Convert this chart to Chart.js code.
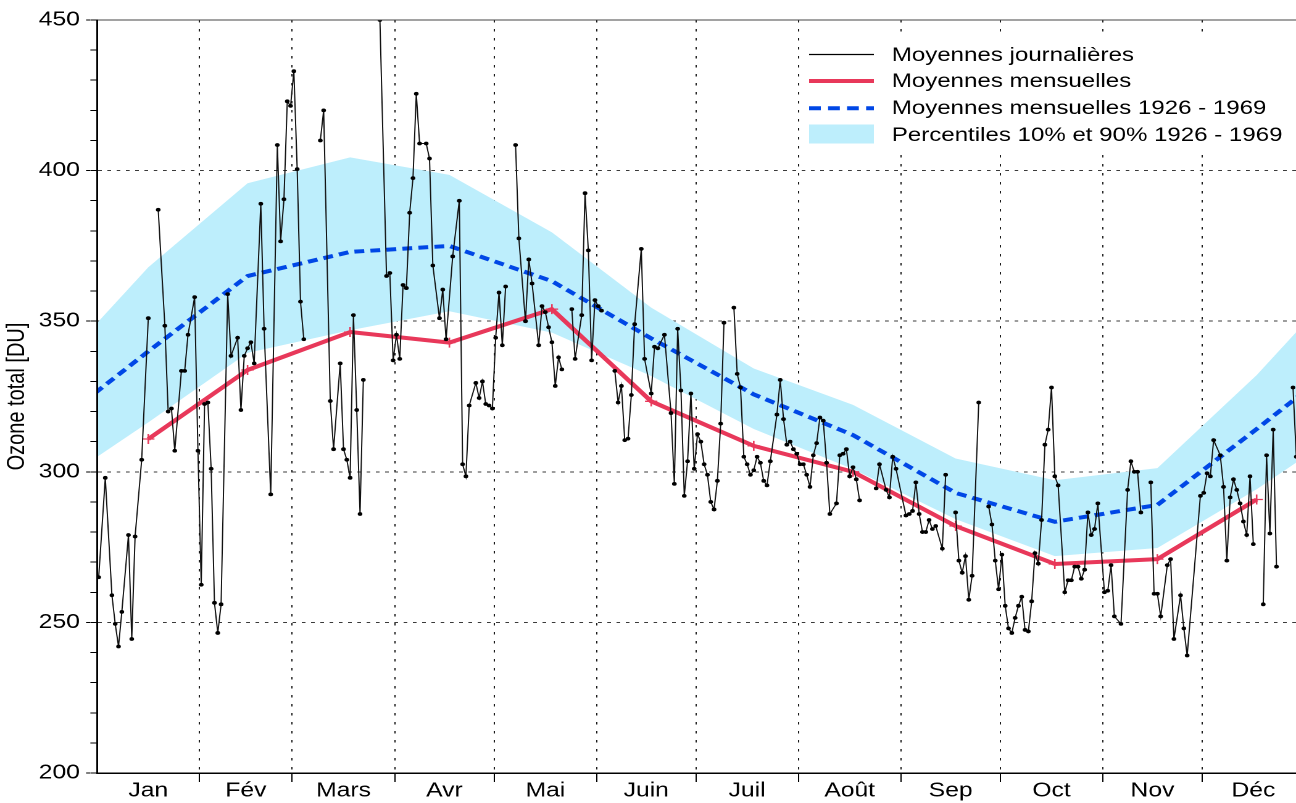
<!DOCTYPE html>
<html>
<head>
<meta charset="utf-8">
<script src="https://cdn.jsdelivr.net/npm/chart.js@4.4.1/dist/chart.umd.js"></script>
<style>
html, body { margin: 0; padding: 0; background: #fff; overflow: hidden; }
#wrap { position: absolute; left: 0; top: 0; width: 1050px; height: 803px; transform: scaleX(1.2342857); transform-origin: 0 0; }
canvas { display: block; }
</style>
</head>
<body>
<div id="wrap"><canvas id="c" width="1050" height="803"></canvas></div>
<script>
// ---------- data ----------
const monthNames = ['Jan', 'Fév', 'Mars', 'Avr', 'Mai', 'Juin', 'Juil', 'Août', 'Sep', 'Oct', 'Nov', 'Déc'];
const monthCenters = [16, 45.5, 75, 105.5, 136, 166.5, 197, 228, 258.5, 289, 319.5, 350];
const monthBounds = [31.5, 59.5, 90.5, 120.5, 151.5, 181.5, 212.5, 243.5, 273.5, 304.5, 334.5];
const yMinorTicks = [200, 210, 220, 230, 240, 250, 260, 270, 280, 290, 300, 310, 320, 330, 340, 350, 360, 370, 380, 390, 400, 410, 420, 430, 440, 450];
const yMajorTicks = [200, 250, 300, 350, 400, 450];
const yGridValues = [250, 300, 350, 400];

// day of year of the monthly points
const monthDay = [16, 46, 77, 107, 138, 168, 199, 229, 260, 290, 321, 351];
const monthlyMean = [310.9, 333.8, 346.4, 342.9, 354.0, 323.4, 308.6, 300.0, 282.0, 269.4, 271.0, 290.8];
const climMean = [340.0, 365.0, 373.0, 375.0, 363.3, 344.3, 325.7, 312.2, 293.0, 283.4, 289.0, 314.2];
const climP90 = [367.9, 395.8, 404.4, 398.6, 379.5, 354.5, 334.3, 322.2, 304.4, 297.2, 301.2, 332.1];
const climP10 = [316.4, 339.5, 347.0, 353.3, 346.2, 331.8, 314.2, 300.9, 284.3, 272.0, 274.7, 294.2];

const dailyDay = [1,3,5,6,7,8,10,11,12,14,16,17,19,21,22,23,24,26,27,28,30,31,32,33,34,35,36,37,38,40,41,43,44,45,46,47,48,50,51,53,55,56,57,58,59,60,61,62,63,65,68,69,71,72,74,75,76,77,78,79,80,81,83,86,88,89,90,91,92,93,94,95,96,97,98,100,101,102,104,105,106,108,110,111,112,113,115,116,117,118,119,120,121,122,123,124,125,127,128,130,131,132,134,135,136,137,138,139,140,141,142,144,145,147,148,149,150,151,152,153,155,157,158,159,160,161,162,163,165,166,168,169,170,172,174,175,176,177,178,179,180,181,182,183,184,185,186,187,188,189,190,191,193,194,195,196,197,198,199,200,201,202,203,204,206,207,208,209,210,211,212,213,214,215,216,217,218,219,220,221,222,224,225,226,227,228,229,230,231,233,236,237,239,240,241,242,245,246,247,248,249,250,251,252,253,254,256,257,258,260,261,262,263,264,265,267,268,270,271,272,273,274,275,276,277,278,279,280,281,282,283,284,285,286,287,288,289,290,291,293,294,295,296,297,298,299,300,301,302,303,305,306,307,308,310,312,313,314,315,316,317,319,320,321,322,324,325,326,328,329,330,334,335,336,337,338,340,341,342,343,344,345,346,347,348,349,350,351,353,354,355,356,357,359,362,363];
const dailyOzone = [265,298,259,249.5,242,253.5,279,244.5,278.5,304,351,null,387,348.5,320,321,307,333.5,333.5,345.5,358,307,262.5,322.5,323,301,256.5,246.5,256,359,338.5,344.5,320.5,338.5,341,343,336,389,347.5,292.5,408.5,376.5,390.5,423,421.5,433,400.5,356.5,344,null,410,420,323.5,307.5,336,307.5,304,298,352,320.5,286,330.5,null,450,365,366,337,345.5,337.5,362,361,386,397.5,425.5,409,409,404,368.5,351,360.5,344,371.5,390,302.5,298.5,322,329.5,324.5,330,322.5,322,321,344.5,359.5,342,361.5,null,408.5,377.5,350,370.5,362.5,342,355,353,348,343,328.5,338,334,null,354,337.5,352,392.5,373.5,337,357,355,353.5,null,333.5,323,328.5,310.5,311,325.5,349,374,337.5,326,341.5,341,345.5,319.5,296,347.5,327,292,303.5,326,301,312.5,310,302.5,299,290,287.5,297,316,349.5,null,354.5,332.5,328,305,302.5,299,300.5,305,303,297,295.5,303.5,319,330.5,317.5,309,310,307.5,306,302.5,302.5,299,295,305.5,309.5,318,317,303,286,289.5,305.5,306,307.5,298.5,301.5,297.5,290.5,null,294.5,302.5,294,291.5,305,301,285.5,286,287,296.5,286,280,280,284,281,282,274.5,299,null,286.5,270.5,266.5,272,257.5,265.5,323,null,288.5,282.5,270.5,261,272.5,255.5,248,246.5,251.5,255.5,258.5,247.5,247,257,273,269.5,284,309,314,328,298.5,295.5,260,264,264,268.5,268.5,264.5,267.5,286.5,279,281,289.5,260,260.5,269,252,249.5,294,303.5,300,300,286.5,null,296.5,259.5,259.5,252,269,271,244.5,259,248,239,292,293,299.5,298.5,310.5,305.5,295,270.5,291.5,297.5,294,289.5,283.5,279,298.5,276,null,256,305.5,279.5,314,268.5,null,328,305];

const legendLabels = ['Moyennes journalières', 'Moyennes mensuelles', 'Moyennes mensuelles 1926 - 1969', 'Percentiles 10% et 90% 1926 - 1969'];

// ---------- styles ----------
const RED = '#e8385a';
const BLUE = '#0047e6';
const BAND = '#bdeefc';
const FONT = "'Liberation Sans', Arial, Helvetica, sans-serif";
Chart.defaults.font.family = FONT;
Chart.defaults.color = '#000';

const xy = (xs, ys) => xs.map((x, i) => ({ x: x, y: ys[i] }));
// monthly climatology wrapped around the year so it reaches the plot edges
const wrap = (ys) => [{ x: monthDay[11] - 365, y: ys[11] }, ...xy(monthDay, ys), { x: monthDay[0] + 365, y: ys[0] }];

const isBound = (c) => c.tick && monthBounds.includes(c.tick.value);

const inLegend = {
  id: 'inLegend',
  afterDatasetsDraw(chart) {
    const ctx = chart.ctx;
    const a = chart.chartArea;
    ctx.save();
    ctx.fillStyle = '#fff';
    ctx.fillRect(648, 36, a.right - 648, 114);
    const x0 = 655.5, x1 = 708, tx = 722.5;
    const lineRows = [54.5, 81, 108.3, 134];
    const textRows = [55.5, 81.8, 108.5, 135.4];
    const seg = (y) => { ctx.beginPath(); ctx.moveTo(x0, y); ctx.lineTo(x1, y); ctx.stroke(); };
    ctx.lineCap = 'butt';
    ctx.strokeStyle = '#000'; ctx.lineWidth = 1.2; seg(lineRows[0]);
    ctx.strokeStyle = RED; ctx.lineWidth = 4; seg(lineRows[1]);
    ctx.setLineDash([9.5, 5.9]); ctx.strokeStyle = BLUE; ctx.lineWidth = 4; seg(lineRows[2]); ctx.setLineDash([]);
    ctx.fillStyle = BAND; ctx.fillRect(x0, lineRows[3] - 9.5, x1 - x0, 19);
    ctx.fillStyle = '#000';
    ctx.font = '19.5px ' + FONT;
    ctx.textBaseline = 'middle';
    ctx.textAlign = 'left';
    legendLabels.forEach((t, i) => ctx.fillText(t, tx, textRows[i]));
    ctx.restore();
  }
};

new Chart(document.getElementById('c'), {
  type: 'line',
  data: {
    datasets: [
      {
        label: legendLabels[0],
        data: xy(dailyDay, dailyOzone),
        borderColor: '#111', borderWidth: 1,
        pointRadius: 1.9, pointHoverRadius: 0, pointBackgroundColor: '#000', pointBorderWidth: 0,
        spanGaps: false, tension: 0, fill: false
      },
      {
        label: legendLabels[1],
        data: xy(monthDay, monthlyMean),
        borderColor: RED, borderWidth: 4, borderJoinStyle: 'round',
        pointStyle: 'cross', pointRadius: 5, pointBorderColor: RED, pointBorderWidth: 1.3, pointHoverRadius: 0,
        tension: 0, fill: false
      },
      {
        label: legendLabels[2],
        data: wrap(climMean),
        borderColor: BLUE, borderWidth: 4, borderDash: [8, 5],
        pointRadius: 0, tension: 0, fill: false, clip: 0
      },
      {
        label: legendLabels[3],
        data: wrap(climP90),
        borderColor: 'rgba(0,0,0,0)', borderWidth: 0, backgroundColor: BAND,
        pointRadius: 0, tension: 0, fill: '+1', clip: 0
      },
      {
        label: 'p10',
        data: wrap(climP10),
        borderColor: 'rgba(0,0,0,0)', borderWidth: 0,
        pointRadius: 0, tension: 0, fill: false, clip: 0
      }
    ]
  },
  options: {
    responsive: false,
    devicePixelRatio: 2,
    animation: false,
    events: [],
    layout: { autoPadding: false, padding: { top: 20, bottom: 1, left: 0, right: 0 } },
    plugins: { legend: { display: false }, tooltip: { enabled: false } },
    scales: {
      x: {
        type: 'linear', position: 'bottom', min: 0.5, max: 362.9,
        afterBuildTicks: (s) => { s.ticks = [...monthBounds, ...monthCenters].sort((a, b) => a - b).map(v => ({ value: v })); },
        afterFit: (s) => { s.height = 29; },
        ticks: {
          autoSkip: false, maxRotation: 0, minRotation: 0, padding: -1, color: '#000',
          font: { size: 20, lineHeight: 1 },
          callback: (v) => { const i = monthCenters.indexOf(v); return i >= 0 ? monthNames[i] : ''; }
        },
        grid: {
          color: (c) => isBound(c) ? '#1a1a1a' : 'rgba(0,0,0,0)',
          tickColor: (c) => isBound(c) ? '#000' : 'rgba(0,0,0,0)',
          lineWidth: 1, tickLength: 9, drawTicks: true
        },
        border: { display: true, color: '#000', width: 1.5, dash: [2.5, 6.5], z: 1 }
      },
      xTop: {
        type: 'linear', position: 'top', display: true, min: 0.5, max: 362.9,
        afterFit: (s) => { s.height = 0; },
        ticks: { display: false },
        grid: { display: false, drawTicks: false },
        border: { display: true, color: '#444', width: 1, z: 1 }
      },
      y: {
        type: 'linear', position: 'left', weight: 0, min: 200, max: 450,
        afterBuildTicks: (s) => { s.ticks = yMinorTicks.map(v => ({ value: v })); },
        afterFit: (s) => { s.width = 5.4; },
        ticks: { display: false },
        grid: {
          color: (c) => (c.tick && yGridValues.includes(c.tick.value)) ? '#3a3a3a' : 'rgba(0,0,0,0)',
          tickColor: '#000', tickLength: 5.4, lineWidth: 1
        },
        border: { display: true, color: '#000', width: 1.5, dash: [3, 4.5], z: 1 }
      },
      yL: {
        type: 'linear', position: 'left', weight: 1, display: true, min: 200, max: 450,
        afterBuildTicks: (s) => { s.ticks = yMajorTicks.map(v => ({ value: v })); },
        afterFit: (s) => { s.width = 73.2; },
        ticks: { padding: 4.9, color: '#000', font: { size: 20 } },
        grid: { drawOnChartArea: false, drawTicks: true, tickLength: 3.5, color: '#000', lineWidth: 1 },
        border: { display: false },
        title: { display: true, text: 'Ozone total [DU]', color: '#000', font: { size: 20 }, padding: { top: 2.2, bottom: 0 } }
      }
    }
  },
  plugins: [inLegend]
});
</script>
</body>
</html>
